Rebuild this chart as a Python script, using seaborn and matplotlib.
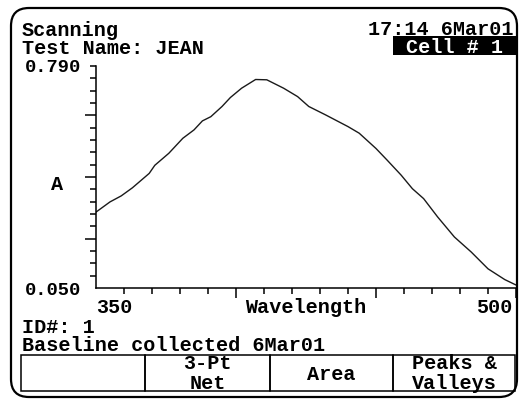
import numpy as np
import pandas as pd
import matplotlib
matplotlib.use('Agg')
import matplotlib.pyplot as plt
from matplotlib.patches import FancyBboxPatch, Rectangle
from matplotlib.transforms import IdentityTransform
import seaborn as sns

# spectrum
wavelength = [350, 355, 359, 363, 369, 371, 376, 381, 385, 388, 391, 395, 398,
              402, 407, 411, 417, 422, 426, 432, 440, 444, 450, 454, 459, 463,
              467, 472, 478, 484, 490, 496, 500]
absorbance = [0.303, 0.337, 0.357, 0.384, 0.432, 0.459, 0.499, 0.549, 0.577,
              0.607, 0.621, 0.655, 0.685, 0.716, 0.745, 0.744, 0.716, 0.688,
              0.655, 0.627, 0.588, 0.566, 0.515, 0.476, 0.426, 0.381, 0.348,
              0.287, 0.220, 0.170, 0.114, 0.078, 0.060]
x_range = [350, 500]
y_range = [0.050, 0.790]
x_labels = ['350', '500']
y_labels = ['0.050', '0.790']
buttons = [[], ['3-Pt', 'Net'], ['Area'], ['Peaks &', 'Valleys']]

W, H = 519, 402

sns.set_style('white')
plt.rcParams['font.family'] = ['Liberation Mono', 'DejaVu Sans Mono']
plt.rcParams['font.weight'] = 'bold'
FS = 14.5


def fx(x):
    return x / W


def fy(y):
    return 1 - y / H


def txt(x, y, s, ha='left', color='black', fs=FS):
    fig.text(fx(x), fy(y), s, ha=ha, va='baseline', fontsize=fs,
             color=color, fontweight='bold')


fig = plt.figure(figsize=(W / 100, H / 100), dpi=100)
fig.patch.set_facecolor('white')

ax = fig.add_axes([fx(96), fy(289), (516 - 96) / W, (289 - 67) / H])
df = pd.DataFrame({'Wavelength': wavelength, 'A': absorbance})
sns.lineplot(data=df, x='Wavelength', y='A', ax=ax, color='#1a1a1a',
             linewidth=1.0)
ax.set_xlim(x_range)
ax.set_ylim(y_range)
ax.set_xlabel('')
ax.set_ylabel('')
sns.despine(ax=ax)
for s in ['left', 'bottom']:
    ax.spines[s].set_linewidth(1.1)
    ax.spines[s].set_color('black')

ax.set_xticks([400, 450, 500])
ax.set_xticks([t for t in range(360, 500, 10) if t not in (400, 450)], minor=True)
yt = np.linspace(y_range[1], y_range[0], 19)
ax.set_yticks(yt[[4, 9, 14]])
ax.set_yticks(np.delete(yt, [4, 9, 14, 18]), minor=True)
ax.tick_params(which='both', bottom=True, left=True, direction='out',
               width=1.1, color='black', labelbottom=False, labelleft=False)
ax.tick_params(axis='x', which='major', length=7.2)
ax.tick_params(axis='x', which='minor', length=4)
ax.tick_params(axis='y', which='major', length=7.7)
ax.tick_params(axis='y', which='minor', length=4.1)

# header
txt(22, 35.5, 'Scanning')
txt(22, 54, 'Test Name: JEAN')
txt(514, 35, '17:14 6Mar01', ha='right')
fig.add_artist(Rectangle((fx(393), fy(56)), (517 - 393) / W, (56 - 37) / H,
                         transform=fig.transFigure, facecolor='black',
                         edgecolor='none'))
txt(455, 53, 'Cell # 1', ha='center', color='white')

# axis labels
txt(81, 72.5, y_labels[1], ha='right', fs=13.5)
txt(81, 295, y_labels[0], ha='right', fs=13.5)
txt(57, 190, 'A', ha='center')
txt(96, 313, x_labels[0])
txt(512, 313, x_labels[1], ha='right')
txt(306, 313, 'Wavelength', ha='center')

# footer
txt(22, 333, 'ID#: 1')
txt(22, 351.5, 'Baseline collected 6Mar01')

edges = [21, 145, 270, 393, 515]
for i, lines in enumerate(buttons):
    x0, x1 = edges[i], edges[i + 1]
    fig.add_artist(Rectangle((fx(x0), fy(392)), (x1 - x0) / W, (392 - 356) / H,
                             transform=fig.transFigure, facecolor='none',
                             edgecolor='black', linewidth=1.1))
    xc = (x0 + x1) / 2
    if len(lines) == 1:
        txt(xc, 380.5, lines[0], ha='center')
    elif len(lines) == 2:
        txt(xc, 369, lines[0], ha='center')
        txt(xc, 389, lines[1], ha='center')

fig.add_artist(FancyBboxPatch((11, 4), 506, 389,
                              boxstyle='round,pad=0,rounding_size=18',
                              transform=IdentityTransform(), fill=False,
                              edgecolor='black', linewidth=1.6))

fig.savefig('out.png', dpi=100, facecolor='white')
